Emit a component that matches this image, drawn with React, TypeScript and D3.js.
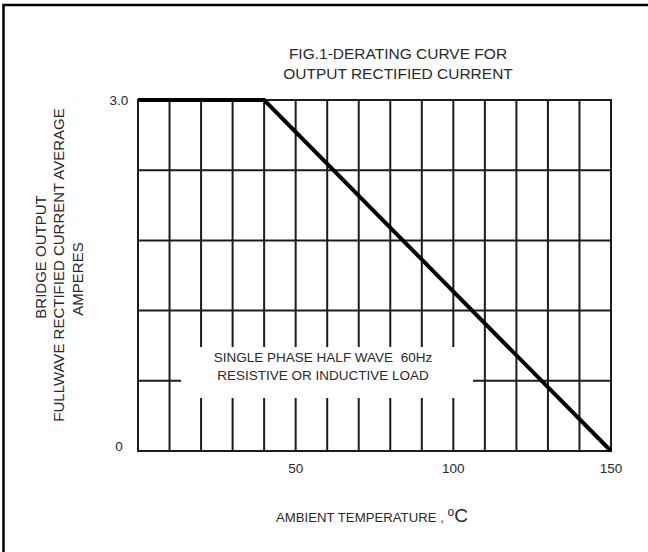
import { useEffect, useRef } from "react"
import * as d3 from "d3"

// derating curve (ambient temperature °C -> average output current A)
const curveTemps = [0, 40, 150]
const curveAmps = [3.0, 3.0, 0]

const gridTemps = [0, 10, 20, 30, 40, 50, 60, 70, 80, 90, 100, 110, 120, 130, 140, 150]
const gridAmps = [0, 0.6, 1.2, 1.8, 2.4, 3.0]

const xTickValues = [50, 100, 150]
const yTickValues = [0, 3.0]
const yTickLabels = ["0", "3.0"]

const titleLines = ["FIG.1-DERATING CURVE FOR", "OUTPUT RECTIFIED CURRENT"]
const yTitleLines = ["BRIDGE OUTPUT", "FULLWAVE RECTIFIED CURRENT AVERAGE", "AMPERES"]
const noteLines = ["SINGLE PHASE HALF WAVE  60Hz", "RESISTIVE OR INDUCTIVE LOAD"]

const FONT = "'Liberation Sans', Arial, sans-serif"

export default function App() {
  const svgRef = useRef<SVGSVGElement>(null)

  useEffect(() => {
    if (!svgRef.current) return
    const svg = d3.select(svgRef.current)
    svg.selectAll("*").remove()

    const width = 648
    const height = 552

    svg.attr("width", width).attr("height", height)
    svg.append("rect").attr("width", width).attr("height", height).attr("fill", "white")

    // outer frame (left + top edges visible)
    svg
      .append("path")
      .attr("d", `M3.5,${height} L3.5,5 L${width},5`)
      .attr("fill", "none")
      .attr("stroke", "#000")
      .attr("stroke-width", 2.5)

    const x = d3.scaleLinear().domain([0, 150]).range([138, 611])
    const y = d3.scaleLinear().domain([0, 3.0]).range([451, 100])

    const grid = svg.append("g").attr("stroke", "#1c1c1c").attr("stroke-width", 2)

    grid
      .selectAll(".vline")
      .data(gridTemps)
      .enter()
      .append("line")
      .attr("x1", (d) => x(d))
      .attr("x2", (d) => x(d))
      .attr("y1", y(0))
      .attr("y2", y(3.0))

    grid
      .selectAll(".hline")
      .data(gridAmps)
      .enter()
      .append("line")
      .attr("x1", x(0) - 1)
      .attr("x2", x(150) + 1)
      .attr("y1", (d) => y(d))
      .attr("y2", (d) => y(d))

    // white box behind the note text
    svg
      .append("rect")
      .attr("x", 181)
      .attr("y", 347)
      .attr("width", 292)
      .attr("height", 51)
      .attr("fill", "white")

    svg
      .append("g")
      .selectAll("text")
      .data(noteLines)
      .enter()
      .append("text")
      .attr("x", 323)
      .attr("y", (d, i) => 362 + i * 18)
      .attr("text-anchor", "middle")
      .style("font-family", FONT)
      .style("font-size", "13.5px")
      .style("fill", "#2a2a2a")
      .style("white-space", "pre")
      .text((d) => d)

    // derating curve
    const line = d3
      .line<number>()
      .x((d) => x(d))
      .y((d, i) => y(curveAmps[i]))

    svg
      .append("path")
      .attr("d", line(curveTemps))
      .attr("fill", "none")
      .attr("stroke", "#000")
      .attr("stroke-width", 4)
      .attr("stroke-linejoin", "miter")

    // tick labels
    svg
      .append("g")
      .selectAll("text")
      .data(xTickValues)
      .enter()
      .append("text")
      .attr("x", (d) => x(d))
      .attr("y", y(0) + 22)
      .attr("text-anchor", "middle")
      .style("font-family", FONT)
      .style("font-size", "13.5px")
      .style("fill", "#2a2a2a")
      .text((d) => d)

    svg
      .append("g")
      .selectAll("text")
      .data(yTickValues)
      .enter()
      .append("text")
      .attr("x", 119)
      .attr("y", (d) => y(d) + (d === 0 ? 0 : 5))
      .attr("text-anchor", "middle")
      .style("font-family", FONT)
      .style("font-size", "13.5px")
      .style("fill", "#2a2a2a")
      .text((d, i) => yTickLabels[i])

    // chart title
    svg
      .append("g")
      .selectAll("text")
      .data(titleLines)
      .enter()
      .append("text")
      .attr("x", 398)
      .attr("y", (d, i) => 59 + i * 20)
      .attr("text-anchor", "middle")
      .style("font-family", FONT)
      .style("font-size", "15.5px")
      .style("fill", "#2a2a2a")
      .text((d) => d)

    // y axis title (rotated)
    const yTitleX = [41, 59, 78]
    const yTitleY = [257, 265, 279]
    svg
      .append("g")
      .selectAll("text")
      .data(yTitleLines)
      .enter()
      .append("text")
      .attr("transform", (d, i) => `translate(${yTitleX[i] + 5},${yTitleY[i]}) rotate(-90)`)
      .attr("text-anchor", "middle")
      .style("font-family", FONT)
      .style("font-size", "15px")
      .style("fill", "#2a2a2a")
      .text((d) => d)

    // x axis title
    const xTitle = svg
      .append("text")
      .attr("x", 276)
      .attr("y", 522)
      .attr("text-anchor", "start")
      .style("font-family", FONT)
      .style("font-size", "13.2px")
      .style("fill", "#2a2a2a")
    xTitle.append("tspan").style("white-space", "pre").text("AMBIENT TEMPERATURE , ")
    xTitle.append("tspan").attr("dy", -6).style("font-size", "12px").text("o")
    xTitle.append("tspan").attr("dy", 6).style("font-size", "19px").text("C")
  }, [])

  return (
    <div style={{ width: 648, height: 552, position: "fixed", left: 0, top: 0 }}>
      <svg ref={svgRef} style={{ display: "block" }}></svg>
    </div>
  )
}
